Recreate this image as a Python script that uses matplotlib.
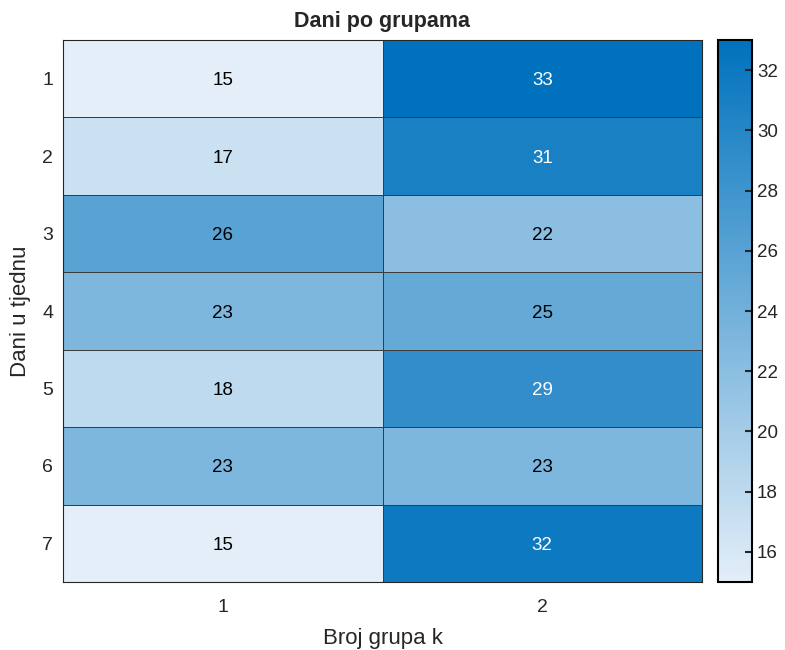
import matplotlib
matplotlib.use('Agg')
import matplotlib.pyplot as plt
from matplotlib.colors import LinearSegmentedColormap
import numpy as np

plt.rcParams['font.family'] = ['Liberation Sans', 'DejaVu Sans']

days = ['1', '2', '3', '4', '5', '6', '7']
groups = ['1', '2']
group1 = [15, 17, 26, 23, 18, 23, 15]
group2 = [33, 31, 22, 25, 29, 23, 32]

vals = np.array([group1, group2]).T

cmap = LinearSegmentedColormap.from_list('mblue', [(0.89, 0.935, 0.972), (0.0, 0.447, 0.741)])
vmin, vmax = 15, 33

fig = plt.figure(figsize=(7.85, 6.5), dpi=100)
ax = fig.add_axes([63/785, 1-582/650, (702-63)/785, (582-40)/650])
mesh = ax.pcolormesh(vals, cmap=cmap, vmin=vmin, vmax=vmax, edgecolor='#3c3c3c', linewidth=0.6)
ax.set_xlim(0, len(groups))
ax.set_ylim(len(days), 0)

# brojevi u celijama
for i in range(len(days)):
    for j in range(len(groups)):
        v = vals[i, j]
        c = 'white' if v >= 28 else 'black'
        ax.text(j + 0.5, i + 0.5, str(v), ha='center', va='center_baseline', fontsize=13.5, color=c)

ax.set_xticks(np.arange(len(groups)) + 0.5)
ax.set_xticklabels(groups)
ax.set_yticks(np.arange(len(days)) + 0.5)
ax.set_yticklabels(days)
ax.tick_params(length=0, labelsize=14, labelcolor='#262626')
ax.tick_params(axis='x', pad=12)
ax.tick_params(axis='y', pad=7)
for s in ax.spines.values():
    s.set_color('#262626')
    s.set_linewidth(0.8)

ax.set_xlabel('Broj grupa k', fontsize=16, color='#262626', labelpad=9)
ax.set_ylabel('Dani u tjednu', fontsize=16, color='#262626', labelpad=8)
ax.set_title('Dani po grupama', fontsize=15.5, fontweight='bold', color='#262626', pad=9)

cax = fig.add_axes([718/785, 1-582/650, 34/785, (582-40)/650])
cb = fig.colorbar(mesh, cax=cax)
cb.set_ticks([16, 18, 20, 22, 24, 26, 28, 30, 32])
cb.ax.tick_params(direction='in', length=5, width=1.5, labelsize=13.5, labelcolor='#262626', color='#262626')
cb.outline.set_linewidth(1.5)
cb.outline.set_edgecolor('black')

fig.savefig('out.png', dpi=100)
